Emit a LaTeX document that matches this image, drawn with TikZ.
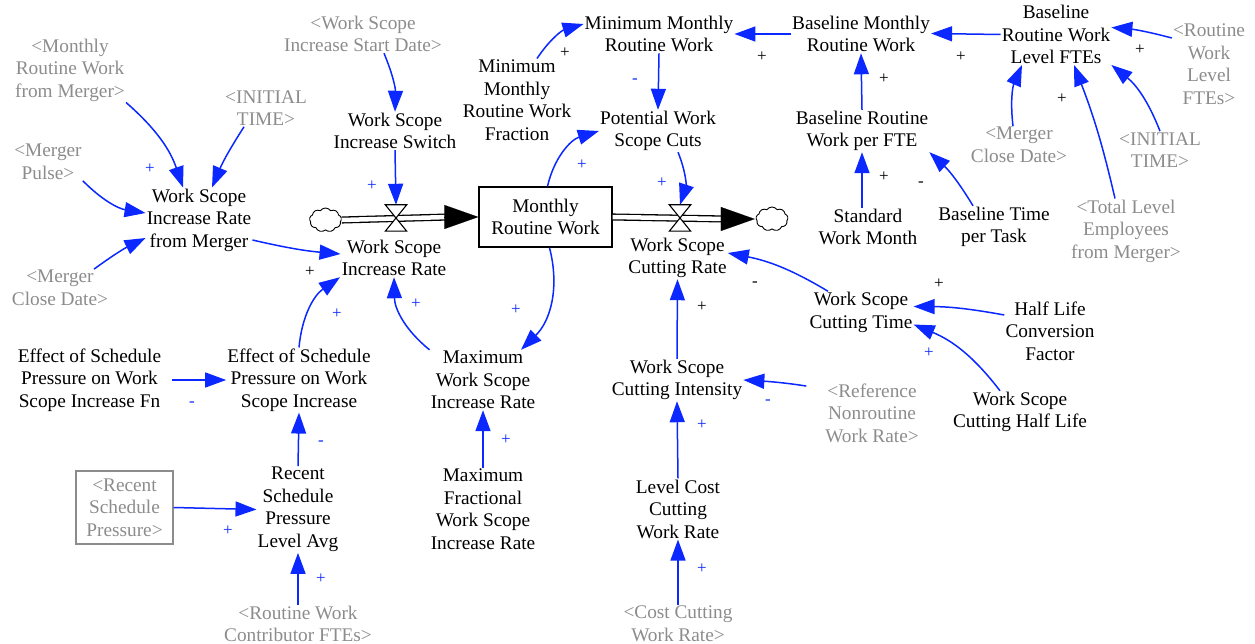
\documentclass[tikz,border=0pt]{standalone}
\usepackage{fontspec}
\setmainfont{Liberation Serif}
\usetikzlibrary{arrows.meta,shapes.symbols}
\definecolor{lnk}{RGB}{10,40,255}
\definecolor{shd}{RGB}{140,140,140}
\tikzset{
  var/.style={align=center, inner sep=1pt, font=\fontsize{19.3}{22.5}\selectfont, text=black},
  shadowvar/.style={var, text=shd},
  lk/.style={draw=lnk, line width=1.5pt, -{Triangle[length=21pt,width=15pt]}},
  sgnb/.style={text=lnk, font=\fontsize{17}{17}\selectfont, inner sep=0pt},
  sgnk/.style={text=black, font=\fontsize{17}{17}\selectfont, inner sep=0pt},
  pipe/.style={draw=black, double=white, double distance=4.5pt, line width=1.3pt},
  cloudnode/.style={cloud, cloud puffs=9, cloud puff arc=110, aspect=1.35, draw=black, line width=0.9pt, minimum width=32pt, minimum height=24pt, inner sep=0pt, fill=white},
  valvenode/.style={minimum width=21pt, minimum height=26pt, inner sep=0pt},
  pipehead/.style={line width=0.1pt, -{Triangle[length=34pt,width=24pt]}},
}
\begin{document}
\begin{tikzpicture}[x=1pt,y=1pt]
\useasboundingbox (0,0) rectangle (1255,-644);
% shadow variables
\node[shadowvar] (gmrwm) at (70,-70) {<Monthly\\Routine Work\\from Merger>};
\node[shadowvar] (git1) at (266,-108) {<INITIAL\\TIME>};
\node[shadowvar] (gmp) at (48,-162) {<Merger\\Pulse>};
\node[shadowvar] (gmcd1) at (60,-288) {<Merger\\Close Date>};
\node[shadowvar] (gwssd) at (363,-34) {<Work Scope\\Increase Start Date>};
\node[shadowvar] (grwlf) at (1209,-64) {<Routine\\Work\\Level\\FTEs>};
\node[shadowvar] (gmcd2) at (1019,-145) {<Merger\\Close Date>};
\node[shadowvar] (git2) at (1160,-150) {<INITIAL\\TIME>};
\node[shadowvar] (gtle) at (1126,-231) {<Total Level\\Employees\\from Merger>};
\node[shadowvar] (grnwr) at (872,-413) {<Reference\\Nonroutine\\Work Rate>};
\node[shadowvar] (gccwr) at (678,-624) {<Cost Cutting\\Work Rate>};
\node[shadowvar] (grwcf) at (298,-624) {<Routine Work\\Contributor FTEs>};
\node[shadowvar, draw=shd, line width=1.3pt, minimum width=97pt, minimum height=73pt] (grsp) at (124.5,-507.5) {<Recent\\Schedule\\Pressure>};
% variables
\node[var] (wsirm) at (199,-220) {Work Scope\\Increase Rate\\from Merger};
\node[var] (wsis) at (395,-131) {Work Scope\\Increase Switch};
\node[var] (wsir) at (394,-258) {Work Scope\\Increase Rate};
\node[var, draw=black, line width=1.3pt, minimum width=133pt, minimum height=60pt] (mrw) at (545.5,-217) {Monthly\\Routine Work};
\node[var] (mmrwf) at (517,-100) {Minimum\\Monthly\\Routine Work\\Fraction};
\node[var] (mmrw) at (659,-34) {Minimum Monthly\\Routine Work};
\node[var] (pwsc) at (658,-131) {Potential Work\\Scope Cuts};
\node[var] (wscr) at (677.5,-258) {Work Scope\\Cutting Rate};
\node[var] (bmrw) at (861,-34) {Baseline Monthly\\Routine Work};
\node[var] (brwlf) at (1056,-34.5) {Baseline\\Routine Work\\Level FTEs};
\node[var] (brwpf) at (862,-131) {Baseline Routine\\Work per FTE};
\node[var] (swm) at (868,-227) {Standard\\Work Month};
\node[var] (btpt) at (994,-227) {Baseline Time\\per Task};
\node[var] (wsct) at (861,-312.5) {Work Scope\\Cutting Time};
\node[var] (hlcf) at (1050,-331) {Half Life\\Conversion\\Factor};
\node[var] (wschl) at (1020,-412) {Work Scope\\Cutting Half Life};
\node[var] (wsci) at (677,-380) {Work Scope\\Cutting Intensity};
\node[var] (lccwr) at (678,-509) {Level Cost\\Cutting\\Work Rate};
\node[var] (mwsir) at (483,-380) {Maximum\\Work Scope\\Increase Rate};
\node[var] (mfwsir) at (483,-509) {Maximum\\Fractional\\Work Scope\\Increase Rate};
\node[var] (espwsif) at (89.5,-380) {Effect of Schedule\\Pressure on Work\\Scope Increase Fn};
\node[var] (espwsi) at (299,-380) {Effect of Schedule\\Pressure on Work\\Scope Increase};
\node[var] (rsplva) at (298,-509.5) {Recent\\Schedule\\Pressure\\Level Avg};
% flows
\node[cloudnode] (cloudL) at (325.5,-220) {};
\node[cloudnode] (cloudR) at (772,-219) {};
\node[valvenode] (v1) at (396,-218) {};
\node[valvenode] (v2) at (680,-218) {};
\draw[pipe] (cloudL.east) -- ([xshift=-30]mrw.west);
\draw[pipehead] ([xshift=-34]mrw.west) -- (mrw.west);
\draw[pipe] (mrw.east) -- ([xshift=-30]cloudR.west);
\draw[pipehead] ([xshift=-35]cloudR.west) -- ([xshift=-1]cloudR.west);
\foreach \v in {v1,v2}{
  \draw[line width=1.1pt, fill=white] (\v.north west) -- (\v.north east) -- (\v.south west) -- (\v.south east) -- cycle;
}
% connectors
\draw[lk] (gmrwm.south east) to[bend left=15] ([xshift=-16]wsirm.north);
\draw[lk] ([xshift=-22]git1.south) to[bend right=5] ([xshift=13]wsirm.north);
\draw[lk] (gmp.south east) to[bend right=18] ([yshift=7]wsirm.west);
\draw[lk] ([xshift=34]gmcd1.north) to[bend left=5] ([yshift=-18]wsirm.west);
\draw[lk] ([yshift=-20]wsirm.east) to[bend right=4] ([yshift=4]wsir.west);
\draw[lk] ([xshift=21]gwssd.south) to[bend left=12] (wsis.north);
\draw[lk] (wsis.south) -- (v1.north);
\draw[lk] (espwsi.north) to[bend left=25] ([xshift=-54]wsir.south);
\draw[lk] (mwsir.north west) to[bend left=25] (wsir.south);
\draw[lk] ([xshift=4]mrw.south) to[bend left=30] ([xshift=38]mwsir.north);
\draw[lk] ([xshift=2]mrw.north) to[bend left=30] (pwsc.west);
\draw[lk] ([xshift=20]mmrwf.north) to[bend left=20] ([yshift=10]mmrw.west);
\draw[lk] (bmrw.west) -- (mmrw.east);
\draw[lk] (mmrw.south) -- (pwsc.north);
\draw[lk] ([xshift=20]pwsc.south) to[bend left=20] (v2.north);
\draw[lk] (brwlf.west) -- ([yshift=0.5]bmrw.east);
\draw[lk] ([yshift=26]grwlf.west) to[bend right=5] ([yshift=7]brwlf.east);
\draw[lk] ([xshift=-6]gmcd2.north) to[bend left=15] ([xshift=-34]brwlf.south);
\draw[lk] ([xshift=-11]gtle.north) to[bend right=4] ([xshift=18]brwlf.south);
\draw[lk] (git2.north) to[bend right=15] (brwlf.south east);
\draw[lk] (brwpf.north) -- (bmrw.south);
\draw[lk] ([xshift=-6]swm.north) -- (brwpf.south);
\draw[lk] ([xshift=-21]btpt.north) to[bend right=8] (brwpf.south east);
\draw[lk] (wsci.north) -- (wscr.south);
\draw[lk] ([xshift=-33]wsct.north) to[bend right=10] ([yshift=5]wscr.east);
\draw[lk] ([yshift=16]hlcf.west) to[bend right=5] ([yshift=6]wsct.east);
\draw[lk] ([xshift=-20]wschl.north) to[bend right=15] ([yshift=-12]wsct.east);
\draw[lk, shorten <=18pt] ([yshift=24]grnwr.west) to[bend right=3] (wsci.east);
\draw[lk] (lccwr.north) -- (wsci.south);
\draw[lk] (gccwr.north) -- (lccwr.south);
\draw[lk, shorten <=10pt] (espwsif.east) -- (espwsi.west);
\draw[lk] (rsplva.north) -- (espwsi.south);
\draw[lk] (grsp.east) -- (rsplva.west);
\draw[lk] (grwcf.north) -- (rsplva.south);
\draw[lk] (mfwsir.north) -- (mwsir.south);
% polarity signs
\node[sgnb] (s1) at (150,-169) {+};
\node[sgnk] (s5) at (310,-272) {+};
\node[sgnb] (s7) at (372,-186) {+};
\node[sgnb] (s8) at (337,-314) {+};
\node[sgnb] (s9) at (416,-304) {+};
\node[sgnb] (s10) at (516,-310) {+};
\node[sgnb] (s11) at (582,-165) {+};
\node[sgnk] (s12) at (565,-53) {+};
\node[sgnk] (s13) at (762,-57) {+};
\node[sgnb] (s14) at (635,-81) {-};
\node[sgnb] (s15) at (662,-183) {+};
\node[sgnk] (s16) at (961,-57) {+};
\node[sgnk] (s17) at (1140,-50) {+};
\node[sgnk] (s19) at (1062,-99) {+};
\node[sgnk] (s21) at (884,-79) {+};
\node[sgnk] (s22) at (884,-177) {+};
\node[sgnk] (s23) at (921,-184) {-};
\node[sgnk] (s24) at (702,-307) {+};
\node[sgnk] (s25) at (755,-284) {-};
\node[sgnk] (s26) at (939,-284) {+};
\node[sgnb] (s27) at (929,-353) {+};
\node[sgnb] (s28) at (768,-402) {-};
\node[sgnb] (s29) at (702,-425) {+};
\node[sgnb] (s30) at (702,-569) {+};
\node[sgnb] (s31) at (192,-404) {-};
\node[sgnb] (s32) at (321,-443) {-};
\node[sgnb] (s33) at (228,-531) {+};
\node[sgnb] (s34) at (321,-579) {+};
\node[sgnb] (s35) at (506,-440) {+};
\end{tikzpicture}
\end{document}
